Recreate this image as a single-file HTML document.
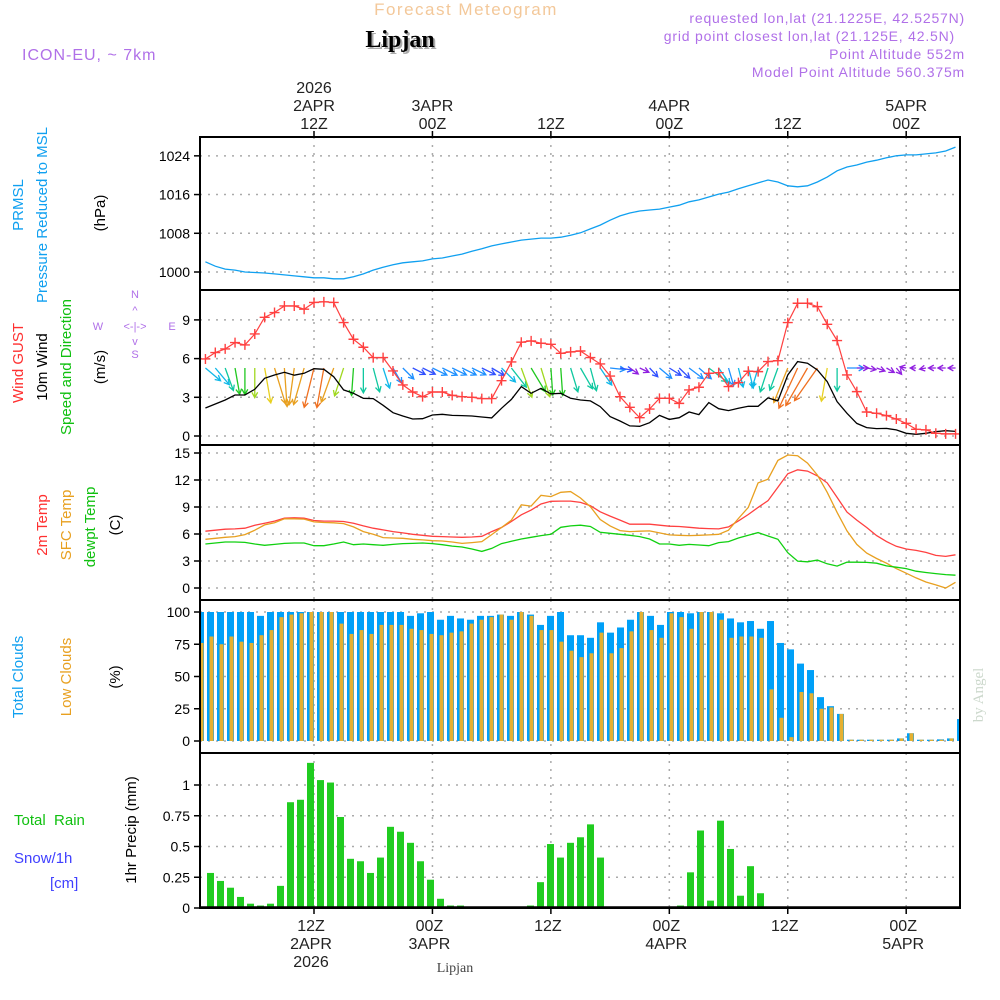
<!DOCTYPE html>
<html><head><meta charset="utf-8"><style>
html,body{margin:0;padding:0;background:#fff;}
svg{display:block;font-family:"Liberation Sans",sans-serif;}
</style></head><body>
<svg id="chart" width="1000" height="1000" viewBox="0 0 1000 1000" xmlns="http://www.w3.org/2000/svg">
<rect x="0" y="0" width="1000" height="1000" fill="#fff"/>
<text x="466" y="15" font-size="17" fill="#f3c89a" text-anchor="middle" letter-spacing="1.5">Forecast Meteogram</text>
<text x="402" y="49" font-size="24" font-weight="bold" font-family="Liberation Serif, serif" fill="#aaa" text-anchor="middle">Lipjan</text>
<text x="400" y="47" font-size="24" font-weight="bold" font-family="Liberation Serif, serif" fill="#000" text-anchor="middle">Lipjan</text>
<text x="22" y="60" font-size="16" fill="#b070e8" letter-spacing="1">ICON-EU, ~ 7km</text>
<g font-size="14" fill="#b070e8" text-anchor="end" letter-spacing="0.8">
<text x="965" y="23">requested lon,lat (21.1225E, 42.5257N)</text>
<text x="955" y="41">grid point closest lon,lat (21.125E, 42.5N)</text>
<text x="965" y="59">Point Altitude 552m</text>
<text x="965" y="77">Model Point Altitude 560.375m</text>
</g>
<g id="top-axis" font-size="16" fill="#222" text-anchor="middle"></g>
<g id="bottom-axis" font-size="16" fill="#222" text-anchor="middle"></g>
<text x="455" y="972" font-size="14" font-family="Liberation Serif, serif" fill="#444" text-anchor="middle">Lipjan</text>
<g font-size="15">
<text transform="translate(23,205) rotate(-90)" fill="#10a0f0" text-anchor="middle">PRMSL</text>
<text transform="translate(47,215) rotate(-90)" fill="#10a0f0" text-anchor="middle">Pressure Reduced to MSL</text>
<text transform="translate(105,213) rotate(-90)" fill="#000" text-anchor="middle">(hPa)</text>
<text transform="translate(23,363) rotate(-90)" fill="#ff3030" text-anchor="middle">Wind GUST</text>
<text transform="translate(47,367) rotate(-90)" fill="#000" text-anchor="middle">10m Wind</text>
<text transform="translate(71,367) rotate(-90)" fill="#10c010" text-anchor="middle">Speed and Direction</text>
<text transform="translate(105,367) rotate(-90)" fill="#000" text-anchor="middle">(m/s)</text>
<text transform="translate(47,525) rotate(-90)" fill="#ff3030" text-anchor="middle">2m Temp</text>
<text transform="translate(71,525) rotate(-90)" fill="#e8a020" text-anchor="middle">SFC Temp</text>
<text transform="translate(95,527) rotate(-90)" fill="#10c010" text-anchor="middle">dewpt Temp</text>
<text transform="translate(120,525) rotate(-90)" fill="#000" text-anchor="middle">(C)</text>
<text transform="translate(23,677) rotate(-90)" fill="#10a0f0" text-anchor="middle">Total Clouds</text>
<text transform="translate(71,677) rotate(-90)" fill="#e8a020" text-anchor="middle">Low Clouds</text>
<text transform="translate(120,677) rotate(-90)" fill="#000" text-anchor="middle">(%)</text>
<text x="14" y="825" fill="#10c010" xml:space="preserve">Total  Rain</text>
<text x="14" y="863" fill="#4040ff">Snow/1h</text>
<text x="50" y="888" fill="#4040ff">[cm]</text>
<text transform="translate(136,830) rotate(-90)" fill="#000" text-anchor="middle">1hr Precip (mm)</text>
</g>
<g font-size="11" fill="#b070e8" text-anchor="middle">
<text x="135" y="298">N</text><text x="135" y="358">S</text><text x="98" y="330">W</text><text x="172" y="330">E</text>
<text x="135" y="330">&lt;-|-&gt;</text>
<text x="135" y="314">^</text><text x="135" y="345">v</text>
</g>
<text transform="translate(983,695) rotate(-90)" font-size="15" font-family="Liberation Serif, serif" fill="#ccd8cc" text-anchor="middle">by Angel</text>
<g id="plots"></g>
</svg>
<script>
// ---- data (hour index h = 1..77 from 2APR 00Z) ----
const timeTicks = [12, 24, 36, 48, 60, 72];
const topLabels1 = ["2APR", "3APR", "", "4APR", "", "5APR"];
const topLabels2 = ["12Z", "00Z", "12Z", "00Z", "12Z", "00Z"];
const pressureTicks = [1000, 1008, 1016, 1024];
const pressure = [1002.1,1001.2,1000.6,1000.4,1000.0,999.9,999.8,999.6,999.4,999.2,999.0,998.8,998.8,998.6,998.6,999.0,999.6,1000.4,1001.0,1001.5,1001.9,1002.1,1002.3,1002.7,1002.9,1003.3,1003.7,1004.3,1004.8,1005.4,1005.8,1006.2,1006.6,1006.8,1007.0,1007.0,1007.2,1007.6,1008.1,1008.9,1009.7,1010.7,1011.6,1012.2,1012.6,1012.8,1013.0,1013.4,1013.8,1014.5,1014.9,1015.5,1016.1,1016.5,1017.2,1017.8,1018.4,1019.0,1018.6,1017.8,1017.6,1017.8,1018.6,1019.6,1020.9,1021.7,1022.1,1022.7,1023.1,1023.6,1024.0,1024.2,1024.2,1024.4,1024.6,1025.0,1025.8];
const windTicks = [0, 3, 6, 9];
const gust = [5.97,6.47,6.75,7.24,7.06,7.91,9.2,9.57,10.08,10.08,9.83,10.35,10.4,10.35,8.79,7.5,6.88,6.08,6.08,5.04,3.96,3.41,3.05,3.41,3.41,3.15,3.05,3.0,2.9,2.9,4.29,5.74,7.27,7.37,7.19,7.11,6.41,6.52,6.59,6.08,5.59,4.65,3.05,2.22,1.42,2.09,2.92,2.92,2.53,3.57,3.78,4.86,4.91,3.83,4.14,5.02,4.99,5.77,5.84,8.79,10.29,10.29,10.03,8.66,7.4,4.73,3.44,1.86,1.76,1.58,1.32,0.98,0.52,0.47,0.21,0.16,0.16];
const wind = [2.17,2.48,2.79,3.18,3.18,3.62,4.47,4.73,4.94,4.71,4.86,5.22,5.17,4.6,3.57,3.31,2.92,2.9,2.38,1.81,1.55,1.32,1.34,1.63,1.68,1.6,1.58,1.55,1.47,1.4,2.15,2.84,3.83,3.31,3.7,3.26,3.31,2.92,2.79,2.72,2.28,1.5,1.16,0.78,0.75,1.03,1.6,1.29,1.42,1.86,1.66,2.59,2.12,1.97,2.15,2.3,2.3,2.95,2.72,4.73,5.77,5.64,5.12,4.22,2.66,1.76,0.98,0.65,0.57,0.59,0.47,0.21,0.13,0.21,0.34,0.41,0.36];
const windDir = [310,320,340,350,0,0,350,343,356,8,16,14,10,20,18,4,0,345,342,330,315,297,296,296,296,296,296,296,296,300,315,322,340,329,343,356,356,343,330,345,326,276,280,305,295,317,310,302,314,307,311,307,325,344,346,346,17,18,20,22,25,30,35,10,0,270,270,280,290,300,320,100,90,80,90,90,90];
const tempTicks = [0, 3, 6, 9, 12, 15];
const temp2m = [6.31,6.42,6.53,6.57,6.64,6.98,7.2,7.43,7.76,7.8,7.76,7.5,7.43,7.43,7.39,7.2,6.9,6.64,6.46,6.27,6.12,5.97,5.86,5.75,5.71,5.67,5.63,5.67,5.75,6.27,6.72,7.39,8.13,8.66,9.33,9.63,9.66,9.66,9.51,9.14,8.47,7.99,7.54,7.09,7.09,7.09,6.98,6.87,6.83,6.75,6.64,6.6,6.57,6.79,7.46,8.17,8.96,9.7,11.2,12.69,13.13,12.99,12.46,11.68,10.07,8.43,7.54,6.72,5.82,5.15,4.63,4.33,4.18,3.96,3.62,3.51,3.69];
const tempSfc = [5.41,5.52,5.63,5.71,5.93,6.42,7.01,7.24,7.69,7.69,7.65,7.35,7.28,7.24,7.16,6.79,6.27,5.97,5.6,5.56,5.52,5.41,5.34,5.26,5.22,5.11,4.96,5.04,5.15,5.93,6.72,7.54,9.25,9.1,10.3,10.15,10.63,10.71,10.0,9.03,7.61,6.9,6.38,6.27,6.31,6.34,6.12,5.9,5.86,5.82,5.86,5.9,5.97,6.42,7.72,8.96,11.68,12.09,14.18,14.78,14.7,13.88,12.54,10.63,8.4,6.34,4.85,3.88,3.28,2.76,2.16,1.64,1.12,0.67,0.34,0.0,0.63];
const dewpt = [4.89,5.0,5.11,5.11,5.07,4.89,4.74,4.85,4.96,5.0,5.0,4.7,4.7,4.89,5.11,4.81,4.89,4.81,4.74,4.85,4.93,4.96,5.0,4.93,4.81,4.66,4.55,4.33,4.07,4.4,4.93,5.19,5.45,5.63,5.82,5.97,6.75,6.9,6.98,6.83,6.19,6.08,5.97,5.86,5.71,5.45,4.89,4.89,4.74,4.85,4.78,4.7,5.04,5.15,5.56,5.86,6.16,5.78,5.41,3.92,2.99,2.91,3.1,2.69,2.43,2.87,2.87,2.84,2.76,2.46,2.31,2.16,1.87,1.72,1.6,1.49,1.42];
const cloudTicks = [0, 25, 50, 75, 100];
const cloudTotal = [100,100,100,100,100,100,97,100,100,100,100,100,100,100,100,100,100,100,100,100,100,97,99,100,94,97,95,94,97,97,98,97,100,98,90,97,100,82,82,80,92,84,88,94,100,97,90,100,100,99,100,100,99,95,92,93,87,93,76,71,60,55,34,27,21,1,1,1,1,1,2,6,1,1,1.3,2,17];
const cloudLow = [76,81,75,81,77,76,82,86,96,98,99,100,100,100,91,83,86,83,90,90,90,87,86,83,82,84,85,91,94,96,98,94,100,97,86,86,77,70,65,68,84,68,72,85,100,86,80,99,96,87,100,100,94,80,81,81,80,40,18,3,38,37,25,26,21,1,1,1,1,1,2,6,1,1,1,2,10];
const precipTicks = [0, 0.25, 0.5, 0.75, 1];
const precipTickLabels = ["0", "0.25", "0.5", "0.75", "1"];
const precip = [0,0.285,0.22,0.165,0.09,0.035,0.02,0.035,0.18,0.86,0.88,1.18,1.04,1.02,0.74,0.40,0.38,0.285,0.41,0.66,0.62,0.53,0.38,0.23,0.075,0.02,0.02,0,0,0,0,0,0,0.02,0.21,0.52,0.41,0.53,0.575,0.68,0.41,0,0,0,0,0,0,0,0.02,0.29,0.63,0.06,0.71,0.48,0.10,0.34,0.12,0.01,0,0,0,0,0,0,0,0,0,0,0,0,0,0,0,0,0,0,0];

// ---- axes ----
const X0 = 200, X1 = 960;
const xH = h => 314 + (h - 12) * 9.87;
const xB = k => 200.5 + k * 10;
const yP = v => 272 - (v - 1000) * 4.84;
const yW = v => 436 - v * 12.9;
const yT = v => 588 - v * 9.0;
const yC = v => 741 - v * 1.29;
const yR = v => 908 - v * 123;
const panels = [[137,290],[290,445],[445,600],[600,753],[753,908]];

const NS = "http://www.w3.org/2000/svg";
const plots = document.getElementById("plots");
function mk(tag, attrs, parent) {
  const e = document.createElementNS(NS, tag);
  for (const k in attrs) e.setAttribute(k, attrs[k]);
  (parent || plots).appendChild(e);
  return e;
}
const hours = pressure.map((_, i) => i + 1);

const defs = mk("defs", {});
panels.forEach((p, i) => {
  const c = mk("clipPath", {id: "clip" + i}, defs);
  mk("rect", {x: X0, y: p[0], width: X1 - X0, height: p[1] - p[0]}, c);
});

function yAxis(pi, ticks, yf, labels) {
  const p = panels[pi];
  ticks.forEach((t, i) => {
    const y = yf(t);
    const g = mk("line", {x1: X0, x2: X1, y1: y, y2: y, stroke: "#aaa", "stroke-width": 1.5, "stroke-dasharray": "2,6"});
    
    
    const tk = mk("line", {x1: X0 - 6, x2: X0, y1: y, y2: y, stroke: "#000", "stroke-width": 1.5});
    
    
    const tx = mk("text", {x: 190, y: y + 5, "font-size": 14, "text-anchor": "end", fill: "#000"});
    tx.textContent = labels ? labels[i] : String(t);
    
    
  });
  timeTicks.forEach(h => {
    const x = xH(h);
    const g = mk("line", {x1: x, x2: x, y1: p[0], y2: p[1], stroke: "#aaa", "stroke-width": 1.5, "stroke-dasharray": "2,6"});
    
    
  });
}
yAxis(0, pressureTicks, yP);
yAxis(1, windTicks, yW);
yAxis(2, tempTicks, yT);
yAxis(3, cloudTicks, yC);
yAxis(4, precipTicks, yR, precipTickLabels);

function line(vals, yf, color, name, clip, w) {
  const d = vals.map((v, i) => (i ? "L" : "M") + xH(hours[i]).toFixed(1) + "," + yf(v).toFixed(1)).join(" ");
  const e = mk("path", {d: d, fill: "none", stroke: color, "stroke-width": w || 1.3, "clip-path": "url(#clip" + clip + ")"});
  
  
  return e;
}

line(pressure, yP, "#10a0f0", "pressure-line", 0);

function windColor(s) {
  if (s < 1) return "#9020e0";
  if (s < 1.5) return "#3050ff";
  if (s < 2) return "#1e90ff";
  if (s < 2.5) return "#10b8e8";
  if (s < 3) return "#10c8a0";
  if (s < 3.5) return "#20c820";
  if (s < 4) return "#a0d820";
  if (s < 4.5) return "#e8d020";
  if (s < 5) return "#e8a020";
  return "#f07020";
}
const arrowG = mk("g", {"clip-path": "url(#clip1)"});


windDir.forEach((dir, i) => {
  const s = wind[i];
  const L = 5 + 6.8 * s;
  const th = (dir + 180) * Math.PI / 180;
  const x1 = xH(hours[i]), y1 = 368;
  const dx = Math.sin(th), dy = -Math.cos(th);
  const x2 = x1 + dx * L, y2 = y1 + dy * L;
  const c = windColor(s);
  const a1 = Math.atan2(dy, dx);
  const hl = 6;
  const p1x = x2 - hl * Math.cos(a1 - 0.5), p1y = y2 - hl * Math.sin(a1 - 0.5);
  const p2x = x2 - hl * Math.cos(a1 + 0.5), p2y = y2 - hl * Math.sin(a1 + 0.5);
  const a = mk("path", {d: `M${x1},${y1} L${x2},${y2} M${p1x},${p1y} L${x2},${y2} L${p2x},${p2y}`, stroke: c, fill: "none", "stroke-width": 1.3}, arrowG);
  
  
});
line(wind, yW, "#000", "wind-speed-line", 1, 1.3);
line(gust, yW, "#ff4040", "gust-line", 1, 1.2);
const gustG = mk("g", {"clip-path": "url(#clip1)", stroke: "#ff4040", "stroke-width": 1.4});


gust.forEach((v, i) => {
  const x = xH(hours[i]), y = yW(v);
  const m = mk("path", {d: `M${x-5},${y} L${x+5},${y} M${x},${y-5} L${x},${y+5}`}, gustG);
  
  
});

line(temp2m, yT, "#ff4040", "temp-2m-line", 2);
line(tempSfc, yT, "#e8a020", "temp-sfc-line", 2);
line(dewpt, yT, "#10d010", "dewpoint-line", 2);

const cloudG = mk("g", {"clip-path": "url(#clip3)"});


cloudTotal.forEach((v, k) => {
  const x = xB(k);
  const b = mk("rect", {x: x - 3.5, y: yC(v), width: 7, height: yC(0) - yC(v), fill: "#00a0f8"}, cloudG);
  
  
  const lv = cloudLow[k];
  const b2 = mk("rect", {x: x - 1, y: yC(lv), width: 4, height: yC(0) - yC(lv), fill: "#e6b030"}, cloudG);
  
  
});

const precG = mk("g", {"clip-path": "url(#clip4)"});


precip.forEach((v, k) => {
  if (v <= 0) return;
  const x = xB(k);
  const b = mk("rect", {x: x - 3.5, y: yR(v), width: 7, height: yR(0) - yR(v), fill: "#20cc20"}, precG);
  
  
});
const base = mk("line", {x1: X0, x2: X1, y1: 907, y2: 907, stroke: "#000", "stroke-width": 1.5});



panels.forEach(p => {
  const r = mk("rect", {x: X0, y: p[0], width: X1 - X0, height: p[1] - p[0], fill: "none", stroke: "#000", "stroke-width": 2});
  
  
});

const topAx = document.getElementById("top-axis");
const botAx = document.getElementById("bottom-axis");
timeTicks.forEach((h, i) => {
  const x = xH(h);
  const t1 = mk("line", {x1: x, x2: x, y1: 131, y2: 137, stroke: "#000", "stroke-width": 1.5});
  
  
  const t2 = mk("line", {x1: x, x2: x, y1: 908, y2: 914, stroke: "#000", "stroke-width": 1.5});
  
  
  const a = mk("text", {x: x, y: 129}, topAx); a.textContent = topLabels2[i];
  
  
  if (topLabels1[i]) {
    const b = mk("text", {x: x, y: 111}, topAx); b.textContent = topLabels1[i];
    
    
  }
  const c = mk("text", {x: x - 3, y: 931}, botAx); c.textContent = topLabels2[i];
  
  
  if (topLabels1[i]) {
    const d = mk("text", {x: x - 3, y: 949}, botAx); d.textContent = topLabels1[i];
    
    
  }
});
const yr1 = mk("text", {x: xH(12), y: 93}, topAx); yr1.textContent = "2026";


const yr2 = mk("text", {x: xH(12) - 3, y: 967}, botAx); yr2.textContent = "2026";


</script>
</body></html>
